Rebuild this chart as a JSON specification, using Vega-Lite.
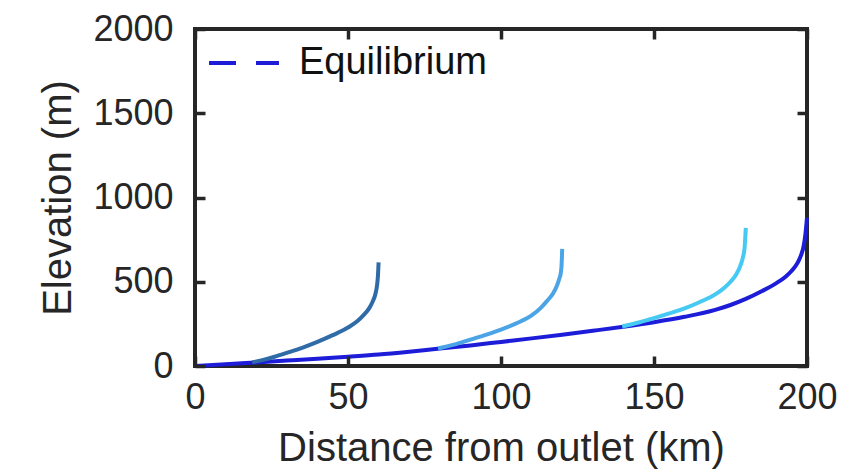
{
  "$schema": "https://vega.github.io/schema/vega-lite/v6.json",
  "width": 612,
  "height": 337,
  "autosize": "none",
  "padding": {"left": 195, "top": 29, "right": 44, "bottom": 108},
  "background": "white",
  "config": {
    "font": "Liberation Sans",
    "view": {"stroke": "#262626", "strokeWidth": 4},
    "axis": {
      "labelFont": "Liberation Sans",
      "labelFontSize": 36,
      "labelColor": "#262626",
      "labelFlush": false,
      "titleFont": "Liberation Sans",
      "titleFontSize": 40,
      "titleFontWeight": "normal",
      "titleColor": "#262626",
      "grid": false,
      "domain": false
    }
  },
  "datasets": {
    "profiles": [
      {"series": "Equilibrium", "km": 0, "elev": 0},
      {"series": "Equilibrium", "km": 10, "elev": 10},
      {"series": "Equilibrium", "km": 20, "elev": 21},
      {"series": "Equilibrium", "km": 30, "elev": 32},
      {"series": "Equilibrium", "km": 40, "elev": 43},
      {"series": "Equilibrium", "km": 50, "elev": 55},
      {"series": "Equilibrium", "km": 60, "elev": 68},
      {"series": "Equilibrium", "km": 70, "elev": 85},
      {"series": "Equilibrium", "km": 80, "elev": 104},
      {"series": "Equilibrium", "km": 90, "elev": 122},
      {"series": "Equilibrium", "km": 100, "elev": 143},
      {"series": "Equilibrium", "km": 110, "elev": 164},
      {"series": "Equilibrium", "km": 120, "elev": 186},
      {"series": "Equilibrium", "km": 130, "elev": 209},
      {"series": "Equilibrium", "km": 140, "elev": 233},
      {"series": "Equilibrium", "km": 150, "elev": 260},
      {"series": "Equilibrium", "km": 160, "elev": 292},
      {"series": "Equilibrium", "km": 170, "elev": 333},
      {"series": "Equilibrium", "km": 175, "elev": 362},
      {"series": "Equilibrium", "km": 180, "elev": 398},
      {"series": "Equilibrium", "km": 185, "elev": 442},
      {"series": "Equilibrium", "km": 190, "elev": 492},
      {"series": "Equilibrium", "km": 193, "elev": 530},
      {"series": "Equilibrium", "km": 195, "elev": 565},
      {"series": "Equilibrium", "km": 197, "elev": 615},
      {"series": "Equilibrium", "km": 198, "elev": 655},
      {"series": "Equilibrium", "km": 199, "elev": 720},
      {"series": "Equilibrium", "km": 199.5, "elev": 785},
      {"series": "Equilibrium", "km": 200, "elev": 880},
      {"series": "t1", "km": 18.7, "elev": 22},
      {"series": "t1", "km": 22, "elev": 35},
      {"series": "t1", "km": 26, "elev": 55},
      {"series": "t1", "km": 30, "elev": 78},
      {"series": "t1", "km": 35, "elev": 108},
      {"series": "t1", "km": 40, "elev": 143},
      {"series": "t1", "km": 45, "elev": 183},
      {"series": "t1", "km": 50, "elev": 228},
      {"series": "t1", "km": 53, "elev": 265},
      {"series": "t1", "km": 55, "elev": 300},
      {"series": "t1", "km": 57, "elev": 345},
      {"series": "t1", "km": 58, "elev": 380},
      {"series": "t1", "km": 59, "elev": 430},
      {"series": "t1", "km": 59.5, "elev": 480},
      {"series": "t1", "km": 59.8, "elev": 540},
      {"series": "t1", "km": 60, "elev": 615},
      {"series": "t2", "km": 79.4, "elev": 104},
      {"series": "t2", "km": 85, "elev": 128},
      {"series": "t2", "km": 90, "elev": 157},
      {"series": "t2", "km": 95, "elev": 185},
      {"series": "t2", "km": 100, "elev": 216},
      {"series": "t2", "km": 105, "elev": 253},
      {"series": "t2", "km": 110, "elev": 300},
      {"series": "t2", "km": 113, "elev": 345},
      {"series": "t2", "km": 115, "elev": 385},
      {"series": "t2", "km": 117, "elev": 430},
      {"series": "t2", "km": 118, "elev": 465},
      {"series": "t2", "km": 119, "elev": 515},
      {"series": "t2", "km": 119.6, "elev": 560},
      {"series": "t2", "km": 119.8, "elev": 600},
      {"series": "t2", "km": 120, "elev": 695},
      {"series": "t3", "km": 139.6, "elev": 234},
      {"series": "t3", "km": 145, "elev": 258},
      {"series": "t3", "km": 150, "elev": 284},
      {"series": "t3", "km": 155, "elev": 312},
      {"series": "t3", "km": 160, "elev": 342},
      {"series": "t3", "km": 165, "elev": 380},
      {"series": "t3", "km": 170, "elev": 425},
      {"series": "t3", "km": 173, "elev": 465},
      {"series": "t3", "km": 175, "elev": 500},
      {"series": "t3", "km": 177, "elev": 548},
      {"series": "t3", "km": 178, "elev": 585},
      {"series": "t3", "km": 179, "elev": 640},
      {"series": "t3", "km": 179.6, "elev": 700},
      {"series": "t3", "km": 180, "elev": 820}
    ]
  },
  "data": {"name": "profiles"},
  "layer": [
    {
      "transform": [{"filter": "datum.series === 'Equilibrium'"}],
      "mark": {"type": "line", "interpolate": "monotone", "strokeWidth": 4, "strokeCap": "butt"},
      "encoding": {
        "x": {
          "field": "km", "type": "quantitative",
          "scale": {"domain": [0, 200], "nice": false},
          "axis": {"orient": "bottom", "values": [0, 50, 100, 150, 200], "format": "d", "title": "Distance from outlet (km)", "labelPadding": 14, "titlePadding": 13, "ticks": true, "tickSize": 10, "tickWidth": 3.5, "tickColor": "#262626", "offset": -10, "zindex": 2}
        },
        "y": {
          "field": "elev", "type": "quantitative",
          "scale": {"domain": [0, 2000], "nice": false},
          "axis": {"orient": "left", "values": [0, 500, 1000, 1500, 2000], "format": "d", "title": "Elevation (m)", "labelPadding": 22, "titlePadding": 14, "ticks": true, "tickSize": 10, "tickWidth": 3.5, "tickColor": "#262626", "offset": -10, "zindex": 2}
        },
        "color": {
          "field": "series", "type": "nominal",
          "scale": {"domain": ["Equilibrium"], "range": ["#1c1cd9"]},
          "legend": {
            "title": null,
            "orient": "none",
            "legendX": 12,
            "legendY": -3,
            "symbolType": "stroke",
            "symbolSize": 4900,
            "symbolStrokeWidth": 4,
            "symbolDash": [27, 20],
            "labelFont": "Liberation Sans",
            "labelFontSize": 38,
            "labelColor": "#111111",
            "labelOffset": 18,
            "labelLimit": 500,
            "padding": 0
          }
        }
      }
    },
    {
      "transform": [{"filter": "datum.series !== 'Equilibrium'"}],
      "mark": {"type": "line", "interpolate": "monotone", "strokeWidth": 4, "strokeCap": "butt"},
      "encoding": {
        "x": {
          "field": "km", "type": "quantitative",
          "scale": {"domain": [0, 200], "nice": false},
          "axis": {"orient": "top", "values": [0, 50, 100, 150, 200], "labels": false, "title": null, "ticks": true, "tickSize": 10, "tickWidth": 3.5, "tickColor": "#262626", "offset": -10, "zindex": 2}
        },
        "y": {
          "field": "elev", "type": "quantitative",
          "scale": {"domain": [0, 2000], "nice": false},
          "axis": {"orient": "right", "values": [0, 500, 1000, 1500, 2000], "labels": false, "title": null, "ticks": true, "tickSize": 10, "tickWidth": 3.5, "tickColor": "#262626", "offset": -10, "zindex": 2}
        },
        "color": {
          "field": "series", "type": "nominal",
          "scale": {"domain": ["t1", "t2", "t3"], "range": ["#2f6ba7", "#4ba4e6", "#46c9f2"]},
          "legend": null
        }
      }
    }
  ],
  "resolve": {
    "scale": {"color": "independent"},
    "axis": {"x": "independent", "y": "independent"},
    "legend": {"color": "independent"}
  }
}
